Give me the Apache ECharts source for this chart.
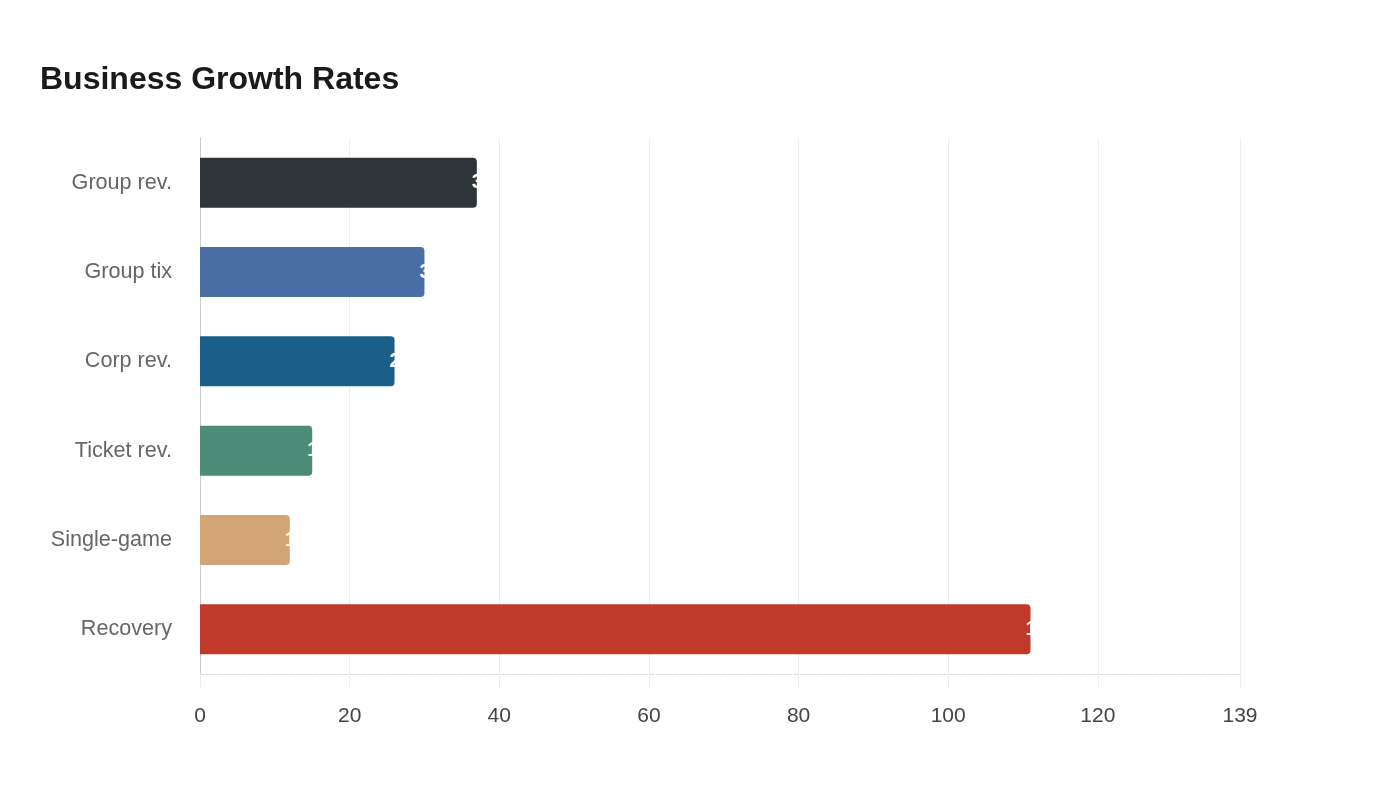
<!DOCTYPE html>
<html>
<head>
<meta charset="utf-8">
<script src="https://cdn.jsdelivr.net/npm/echarts@6/dist/echarts.min.js"></script>
<style>
html,body{margin:0;padding:0;background:#fff;}
#chart{width:1400px;height:800px;}
</style>
</head>
<body>
<div id="chart"></div>
<script>
const categories = ["Group rev.", "Group tix", "Corp rev.", "Ticket rev.", "Single-game", "Recovery"];
const values = [37, 30, 26, 15, 12, 111];
const barColors = ["#2d3538", "#4a6fa5", "#1a5f87", "#4e8c7a", "#d4a574", "#c0392b"];
const axisMax = 139;
const FONT = "'Liberation Sans', Arial, Helvetica, sans-serif";

const chart = echarts.init(document.getElementById('chart'));
chart.setOption({
  backgroundColor: '#ffffff',
  textStyle: { fontFamily: FONT },
  title: {
    text: 'Business Growth Rates',
    left: 35,
    top: 59,
    textStyle: { fontSize: 32, fontWeight: 'bold', color: '#1a1a1a', fontFamily: FONT }
  },
  grid: { left: 200, right: 160, top: 138, bottom: 126, containLabel: false },
  xAxis: {
    type: 'value',
    min: 0,
    max: axisMax,
    interval: 20,
    axisLine: { show: true, lineStyle: { color: '#dddddd', type: 'dashed', width: 1 } },
    axisTick: { show: true, length: 14, lineStyle: { color: '#eeeeee' } },
    splitLine: { show: true, lineStyle: { color: '#eeeeee', width: 1 } },
    axisLabel: { fontSize: 21, color: '#444444', margin: 32, fontFamily: FONT }
  },
  yAxis: {
    type: 'category',
    data: categories,
    inverse: true,
    axisLine: { show: true, lineStyle: { color: '#cccccc' } },
    axisTick: { show: false },
    axisLabel: { fontSize: 21.6, color: '#666666', margin: 28, fontFamily: FONT, padding: [5, 0, 0, 0] }
  },
  series: [{
    type: 'bar',
    data: values.map((v, i) => ({ value: v, itemStyle: { color: barColors[i] } })),
    barWidth: 50,
    itemStyle: { borderRadius: [0, 4, 4, 0] },
    label: {
      show: true,
      position: 'right',
      distance: 0,
      offset: [-5, 0],
      color: '#ffffff',
      fontSize: 20,
      fontWeight: 'bold',
      fontFamily: FONT
    }
  }]
});
</script>
</body>
</html>
